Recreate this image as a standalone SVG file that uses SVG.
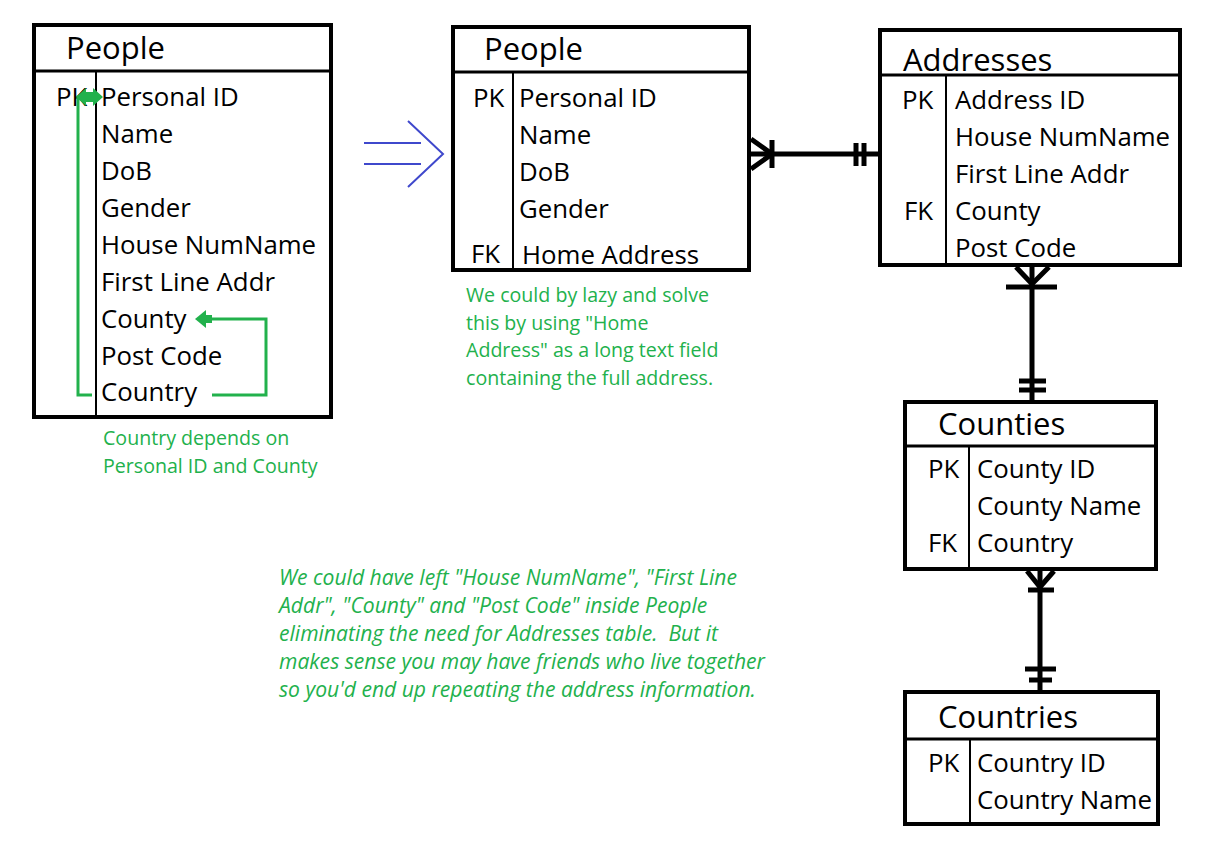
<svg xmlns="http://www.w3.org/2000/svg" width="1229" height="860" viewBox="0 0 1229 860">
<style>
.box{fill:none;stroke:#000;stroke-width:4}
.div{stroke:#000;stroke-width:2}
.hdr{stroke:#000;stroke-width:3}
.t{font-family:"Open Sans","Noto Sans",sans-serif;font-size:25.8px;fill:#000}
.h{font-family:"Open Sans","Noto Sans",sans-serif;font-size:31px;fill:#000}
.g{font-family:"Open Sans","Noto Sans",sans-serif;font-size:19.6px;fill:#22B14C}
.gi{font-family:"Open Sans","Noto Sans",sans-serif;font-size:21.1px;font-style:italic;fill:#22B14C;white-space:pre}
.c{stroke:#000;stroke-width:5;fill:none}
.gl{stroke:#22B14C;stroke-width:3;fill:none}
.bl{stroke:#3F48CC;stroke-width:2;fill:none}
</style>
<rect width="1229" height="860" fill="#fff"/>

<g id="people-old">
<rect class="box" x="34" y="25" width="297" height="392"/>
<line class="hdr" x1="34" y1="71" x2="331" y2="71"/>
<line class="div" x1="96" y1="71" x2="96" y2="417"/>
<text class="h" x="66" y="59">People</text>
<text class="t" x="56" y="106">PK</text>
<text class="t" x="101" y="106">Personal ID</text>
<text class="t" x="101" y="143">Name</text>
<text class="t" x="101" y="180">DoB</text>
<text class="t" x="101" y="217">Gender</text>
<text class="t" x="101" y="254">House NumName</text>
<text class="t" x="101" y="291">First Line Addr</text>
<text class="t" x="101" y="328">County</text>
<text class="t" x="101" y="365">Post Code</text>
<text class="t" x="101" y="401">Country</text>
</g>

<g id="dependency-arrows">
<polyline class="gl" points="92,395 78,395 78,97 84,97"/>
<polygon points="76,97 86,88 86,92 93,92 93,88 103,97 93,106 93,102 86,102 86,106" fill="#22B14C"/>
<polyline class="gl" points="212,395 266,395 266,319 208,319"/>
<polygon points="195,319 206,310 206,328" fill="#22B14C"/>
<rect x="204" y="315" width="8" height="8" fill="#22B14C"/>
</g>

<g id="note-dependency">
<text class="g" x="103" y="445">Country depends on</text>
<text class="g" x="103" y="473">Personal ID and County</text>
</g>

<g id="transform-arrow">
<line class="bl" x1="364" y1="143" x2="421" y2="143"/>
<line class="bl" x1="364" y1="164" x2="421" y2="164"/>
<polyline class="bl" points="408,121 443,154 408,187"/>
</g>

<g id="people">
<rect class="box" x="453" y="27" width="296" height="243"/>
<line class="hdr" x1="453" y1="72" x2="749" y2="72"/>
<line class="div" x1="513" y1="72" x2="513" y2="270"/>
<text class="h" x="484" y="60">People</text>
<text class="t" x="473" y="107">PK</text>
<text class="t" x="519" y="107">Personal ID</text>
<text class="t" x="519" y="144">Name</text>
<text class="t" x="519" y="181">DoB</text>
<text class="t" x="519" y="218">Gender</text>
<text class="t" x="471" y="263">FK</text>
<text class="t" x="522" y="264">Home Address</text>
</g>

<g id="note-lazy">
<text class="g" x="466" y="302">We could by lazy and solve</text>
<text class="g" x="466" y="330">this by using "Home</text>
<text class="g" x="466" y="357">Address" as a long text field</text>
<text class="g" x="466" y="385">containing the full address.</text>
</g>

<g id="addresses">
<rect class="box" x="880" y="30" width="300" height="235"/>
<line class="hdr" x1="880" y1="75" x2="1180" y2="75"/>
<line class="div" x1="946" y1="75" x2="946" y2="265"/>
<text class="h" x="903" y="71">Addresses</text>
<text class="t" x="902" y="109">PK</text>
<text class="t" x="955" y="109">Address ID</text>
<text class="t" x="955" y="146">House NumName</text>
<text class="t" x="955" y="183">First Line Addr</text>
<text class="t" x="904" y="220">FK</text>
<text class="t" x="955" y="220">County</text>
<text class="t" x="955" y="257">Post Code</text>
</g>

<g id="counties">
<rect class="box" x="905" y="402" width="251" height="167"/>
<line class="hdr" x1="905" y1="446" x2="1156" y2="446"/>
<line class="div" x1="969" y1="446" x2="969" y2="569"/>
<text class="h" x="938" y="435">Counties</text>
<text class="t" x="928" y="478">PK</text>
<text class="t" x="977" y="478">County ID</text>
<text class="t" x="977" y="515">County Name</text>
<text class="t" x="928" y="552">FK</text>
<text class="t" x="977" y="552">Country</text>
</g>

<g id="countries">
<rect class="box" x="905" y="692" width="253" height="132"/>
<line class="hdr" x1="905" y1="739" x2="1158" y2="739"/>
<line class="div" x1="970" y1="739" x2="970" y2="824"/>
<text class="h" x="938" y="728">Countries</text>
<text class="t" x="928" y="772">PK</text>
<text class="t" x="977" y="772">Country ID</text>
<text class="t" x="977" y="809">Country Name</text>
</g>

<g id="note-addresses">
<text class="gi" x="279" y="585">We could have left "House NumName", "First Line</text>
<text class="gi" x="279" y="613">Addr", "County" and "Post Code" inside People</text>
<text class="gi" x="279" y="641">eliminating the need for Addresses table.  But it</text>
<text class="gi" x="279" y="669">makes sense you may have friends who live together</text>
<text class="gi" x="279" y="697">so you'd end up repeating the address information.</text>
</g>

<g id="connectors">
<line class="c" x1="749" y1="154" x2="878" y2="154"/>
<polyline class="c" points="751,139 772,154 751,169"/>
<line class="c" x1="772" y1="140" x2="772" y2="168"/>
<line class="c" x1="856" y1="143" x2="856" y2="166"/>
<line class="c" x1="864" y1="143" x2="864" y2="166"/>

<line class="c" x1="1032" y1="266" x2="1032" y2="400"/>
<polyline class="c" points="1016,267 1032,284 1049,267"/>
<line class="c" x1="1006" y1="287" x2="1057" y2="287"/>
<line class="c" x1="1019" y1="381" x2="1046" y2="381"/>
<line class="c" x1="1019" y1="390" x2="1046" y2="390"/>

<line class="c" x1="1040" y1="570" x2="1040" y2="691"/>
<polyline class="c" points="1027,571 1040,587 1054,571"/>
<line class="c" x1="1028" y1="590" x2="1054" y2="590"/>
<line class="c" x1="1025" y1="669" x2="1056" y2="669"/>
<line class="c" x1="1029" y1="680" x2="1052" y2="680"/>
</g>
</svg>
